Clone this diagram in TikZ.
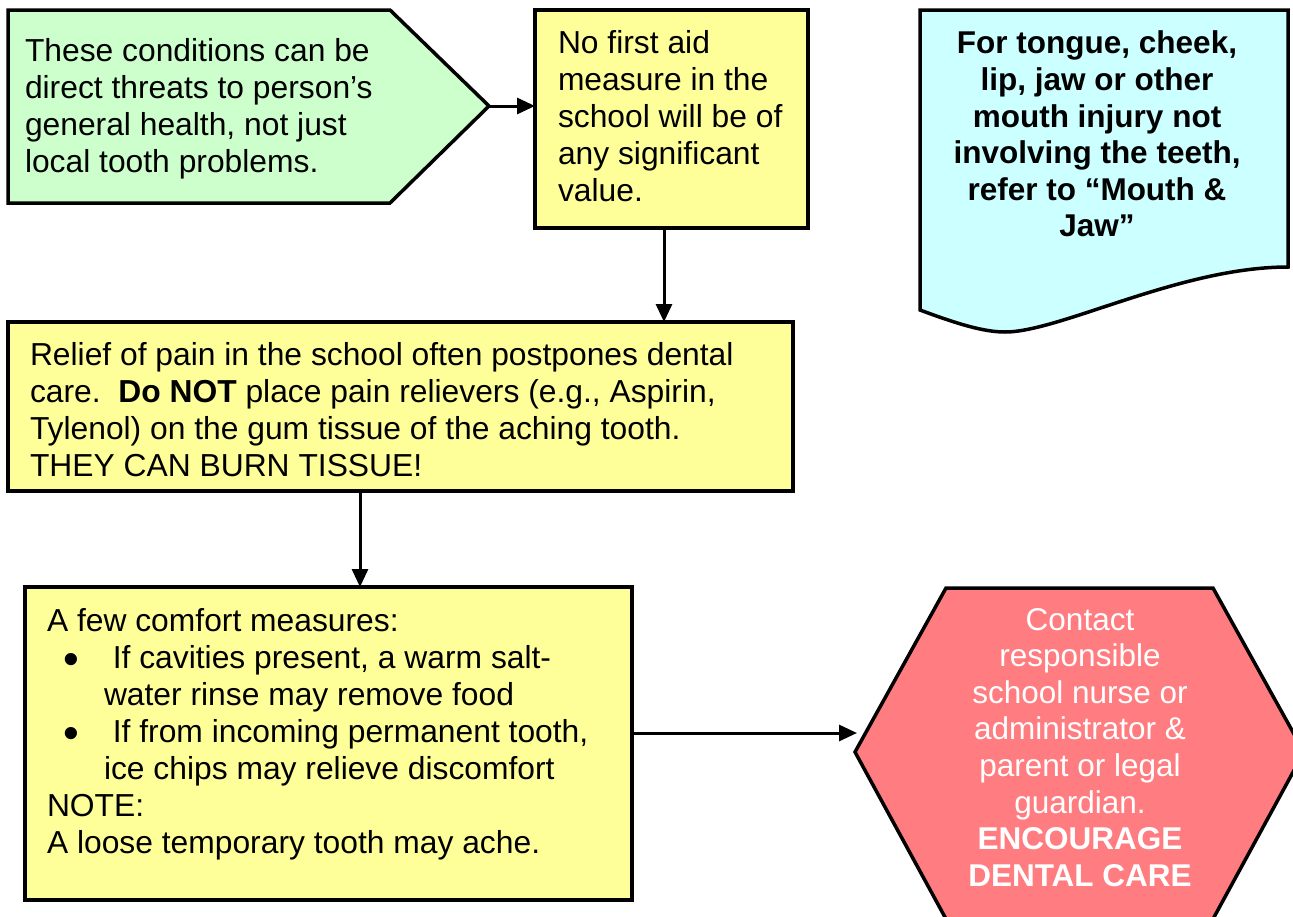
\documentclass[tikz,border=0pt]{standalone}
\usepackage{fontspec}
\setmainfont{Liberation Sans}
\usetikzlibrary{arrows.meta}
\definecolor{mintfill}{HTML}{CCFFCC}
\definecolor{lemonfill}{HTML}{FFFF99}
\definecolor{skyfill}{HTML}{CCFFFF}
\definecolor{rosefill}{HTML}{FF7C80}
\newcommand{\bigdot}{\makebox[57pt][l]{\hspace*{16pt}\raisebox{-6.5pt}{\fontsize{45}{37}\selectfont •}}}

\begin{document}
\begin{tikzpicture}[x=1pt,y=-1pt,
  box/.style={draw=black, line width=3.5pt, rectangle, inner sep=0pt, outer sep=0pt, anchor=north west},
  shapeline/.style={draw=black, line width=3.5pt, line join=miter},
  txt/.style={inner sep=0pt, outer sep=0pt, anchor=north west, align=left, font=\fontsize{31.8}{37}\selectfont},
  flow/.style={line width=3pt, -{Triangle[length=18pt,width=16pt]}}]

\useasboundingbox (0,0) rectangle (1293,916);
\clip (0,0) rectangle (1293,916);

% green pointer box
\draw[shapeline, fill=mintfill] (8,10) -- (390,10) -- (489,106) -- (390,203) -- (8,203) -- cycle;
\coordinate (tip) at (489,106);
\node[txt] (healthtxt) at (25,38) {These conditions can be\\direct threats to person’s\\general health, not just\\local tooth problems.};

% yellow boxes
\node[box, fill=lemonfill, minimum width=273pt, minimum height=218pt] (nofa) at (535,10) {};
\node[txt] (nofatxt) at (558,30) {No first aid\\measure in the\\school will be of\\any significant\\value.};

\node[box, fill=lemonfill, minimum width=785pt, minimum height=169pt] (relief) at (8,322) {};
\node[txt] (relieftxt) at (30,342) {Relief of pain in the school often postpones dental\\care.\ \ \textbf{Do NOT} place pain relievers (e.g., Aspirin,\\Tylenol) on the gum tissue of the aching tooth.\\THEY CAN BURN TISSUE!};

\node[box, fill=lemonfill, minimum width=607pt, minimum height=313pt] (comfort) at (25,587) {};
\node[txt] (comforttxt) at (47,608) {A few comfort measures:\\
\bigdot\ If cavities present, a warm salt-\\
\hspace*{57pt}water rinse may remove food\\
\bigdot\ If from incoming permanent tooth,\\
\hspace*{57pt}ice chips may relieve discomfort\\
NOTE:\\
A loose temporary tooth may ache.};

% cyan document note
\draw[shapeline, fill=skyfill] (920,10) -- (1288,10) -- (1288,267)
  .. controls (1180,267) and (1060,332) .. (1005,332)
  .. controls (985,332) and (960,325) .. (920,310) -- cycle;
\node[txt, align=center, anchor=north, font=\fontsize{31.5}{36.6}\selectfont\bfseries] (mouthtxt) at (1097,31)
  {For tongue, cheek,\\lip, jaw or other\\mouth injury not\\involving the teeth,\\refer to “Mouth \&\\Jaw”};

% red hexagon
\draw[shapeline, fill=rosefill] (855,752) -- (946,588) -- (1213,588) -- (1304,752) -- (1213,919) -- (946,919) -- cycle;
\coordinate (hexin) at (857,733);
\node[txt, align=center, anchor=north, text=white, font=\fontsize{31.5}{36.6}\selectfont] (contacttxt) at (1080,608)
  {Contact\\responsible\\school nurse or\\administrator \&\\parent or legal\\guardian.\\\textbf{ENCOURAGE}\\\textbf{DENTAL CARE}};

% connectors
\draw[flow] (tip) -- (tip -| nofa.west);
\draw[flow] ([xshift=-7.5pt]nofa.south) -- ([xshift=-7.5pt]nofa.south |- relief.north);
\draw[flow] ([xshift=-40.5pt]relief.south) -- ([xshift=-40.5pt]relief.south |- comfort.north);
\draw[flow] ([yshift=10.5pt]comfort.east) -- (hexin);
\end{tikzpicture}
\end{document}
